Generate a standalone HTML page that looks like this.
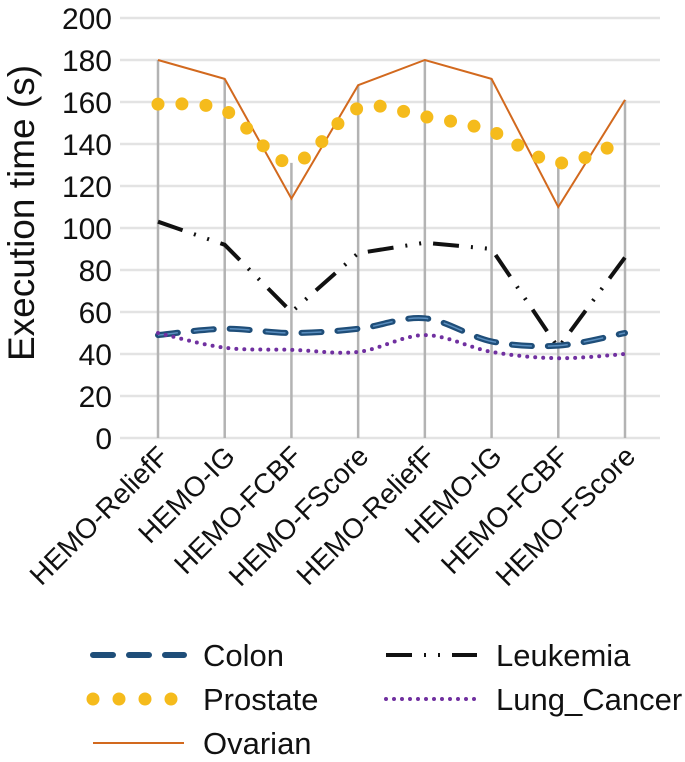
<!DOCTYPE html>
<html><head><meta charset="utf-8"><style>
body{margin:0;background:#fff}
svg{display:block;font-family:"Liberation Sans",Arial,sans-serif}
</style></head><body>
<svg id="c" width="685" height="762"></svg>
<script>
const categories=["HEMO-ReliefF","HEMO-IG","HEMO-FCBF","HEMO-FScore","HEMO-ReliefF","HEMO-IG","HEMO-FCBF","HEMO-FScore"];
const yTicks=[0,20,40,60,80,100,120,140,160,180,200];
const colon=[49,52,50,52,57,46,44,50];
const prostate=[159,156,131,157,153,146,131,142];
const ovarian=[180,171,114,168,180,171,110,161];
const leukemia=[103,92,60,88,93,90,43,86];
const lung=[50,43,42,41,49,41,38,40];
const dropTop=[180,171,131,168,180,171,131,161];

const NS="http://www.w3.org/2000/svg",svg=document.getElementById('c');
const x0=158,x1=625,yB=438,yT=18;
const X=i=>x0+i*(x1-x0)/(categories.length-1);
const Y=v=>yB-(v/200)*(yB-yT);
function mk(t,a,p){const e=document.createElementNS(NS,t);for(const k in a)e.setAttribute(k,a[k]);(p||svg).appendChild(e);return e;}
yTicks.forEach(v=>{
 const g=mk('line',{x1:120,x2:660,y1:Y(v),y2:Y(v),stroke:'#e3e3e3','stroke-width':2.5});
 
 
 const t=mk('text',{x:112,y:Y(v)+11,'text-anchor':'end','font-size':30,fill:'#111'});
 t.textContent=v;
 
 
});
dropTop.forEach((v,i)=>{
 const l=mk('line',{x1:X(i),x2:X(i),y1:Y(v),y2:yB,stroke:'#b3b3b3','stroke-width':2.5});
 
 
});
categories.forEach((c,i)=>{
 const t=mk('text',{x:0,y:0,'text-anchor':'end','font-size':28,fill:'#111',transform:`translate(${X(i)+12},${yB+20}) rotate(-45)`});
 t.textContent=c;
 
 
});
const yt=mk('text',{x:0,y:0,'text-anchor':'middle','font-size':37,fill:'#111',transform:`translate(34,213) rotate(-90)`});
yt.textContent='Execution time (s)';



function straight(d){return d.map((v,i)=>(i?'L':'M')+X(i)+' '+Y(v)).join(' ');}
function smooth(d){
 const p=d.map((v,i)=>[X(i),Y(v)]);let s='M'+p[0][0]+' '+p[0][1];
 for(let i=0;i<p.length-1;i++){
  const a=p[i-1]||p[i],b=p[i],c=p[i+1],e=p[i+2]||c;
  s+=` C${b[0]+(c[0]-a[0])/6} ${b[1]+(c[1]-a[1])/6} ${c[0]-(e[0]-b[0])/6} ${c[1]-(e[1]-b[1])/6} ${c[0]} ${c[1]}`;
 }return s;}
const series=[
 {d:ovarian,f:straight,st:{stroke:'#d2691e','stroke-width':2},n:'ovarian-line'},
 {d:prostate,f:smooth,st:{stroke:'#f5bb1c','stroke-width':13,'stroke-linecap':'round','stroke-dasharray':'0 24'},n:'prostate-line'},
 {d:leukemia,f:straight,st:{stroke:'#111','stroke-width':4,'stroke-dasharray':'26 12 2 12 2 12'},n:'leukemia-line'},
 {d:colon,f:smooth,st:{stroke:'#1f4e79','stroke-width':6,'stroke-linecap':'round','stroke-dasharray':'20 16'},n:'colon-line'},
 {d:colon,f:smooth,st:{stroke:'#5b8fc0','stroke-width':1.5,'stroke-dasharray':'20 16'},n:'colon-highlight'},
 {d:lung,f:smooth,st:{stroke:'#7030a0','stroke-width':4,'stroke-linecap':'round','stroke-dasharray':'0 8'},n:'lung-cancer-line'}
];
series.forEach(s=>{
 const p=mk('path',Object.assign({d:s.f(s.d),fill:'none'},s.st));
 
 
});
const leg=[
 {x:90,y:655,t:'Colon',st:{stroke:'#1f4e79','stroke-width':6,'stroke-linecap':'round','stroke-dasharray':'20 16'}},
 {x:383,y:655,t:'Leukemia',st:{stroke:'#111','stroke-width':4,'stroke-dasharray':'26 12 2 12 2 12'}},
 {x:90,y:699,t:'Prostate',st:{stroke:'#f5bb1c','stroke-width':13,'stroke-linecap':'round','stroke-dasharray':'0 26'}},
 {x:383,y:699,t:'Lung_Cancer',st:{stroke:'#7030a0','stroke-width':4,'stroke-linecap':'round','stroke-dasharray':'0 8'}},
 {x:90,y:743,t:'Ovarian',st:{stroke:'#d2691e','stroke-width':2}}
];
leg.forEach(l=>{
 const g=mk('g',{});
 
 
 mk('line',Object.assign({x1:l.x+3,x2:l.x+94,y1:l.y,y2:l.y},l.st),g);
 const t=mk('text',{x:l.x+113,y:l.y+11,'font-size':31,fill:'#111'},g);
 t.textContent=l.t;
});
</script>
</body></html>
